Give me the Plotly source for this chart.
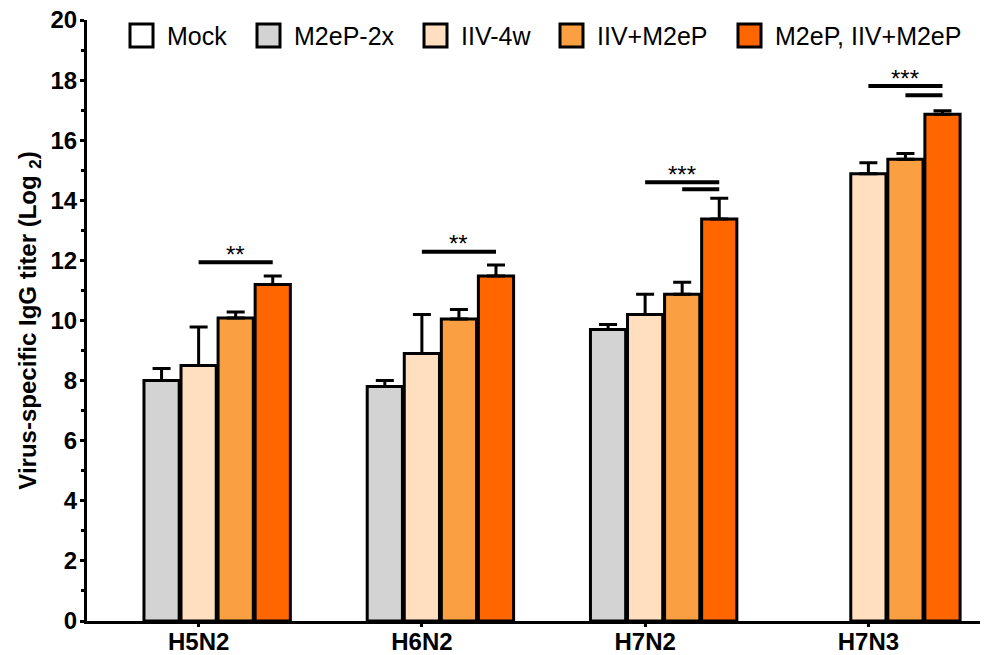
import plotly.graph_objects as go

categories = ["H5N2", "H6N2", "H7N2", "H7N3"]
series_names = ["Mock", "M2eP-2x", "IIV-4w", "IIV+M2eP", "M2eP, IIV+M2eP"]
series_colors = ["#FFFFFF", "#D3D3D3", "#FFDFBF", "#FBA042", "#FF6600"]

mock_vals = [None, None, None, None]
mock_err = [0, 0, 0, 0]
m2ep2x_vals = [8.0, 7.8, 9.7, None]
m2ep2x_err = [0.4, 0.2, 0.17, 0]
iiv4w_vals = [8.5, 8.9, 10.2, 14.88]
iiv4w_err = [1.28, 1.3, 0.67, 0.37]
iivm2ep_vals = [10.08, 10.05, 10.87, 15.37]
iivm2ep_err = [0.2, 0.32, 0.4, 0.19]
combo_vals = [11.2, 11.48, 13.38, 16.86]
combo_err = [0.28, 0.37, 0.69, 0.12]

# significance brackets: category index, from series, to series, y level, label
sig_cat = [0, 1, 2, 2, 3, 3]
sig_from = [2, 2, 2, 3, 2, 3]
sig_to = [4, 4, 4, 4, 4, 4]
sig_y = [11.94, 12.29, 14.6, 14.37, 17.8, 17.5]
sig_label = ["**", "**", "***", "", "***", ""]

all_vals = [mock_vals, m2ep2x_vals, iiv4w_vals, iivm2ep_vals, combo_vals]
all_errs = [mock_err, m2ep2x_err, iiv4w_err, iivm2ep_err, combo_err]

FONT = "Liberation Sans, Arial, sans-serif"
BARGAP = 0.17
NSER = len(series_names)

fig = go.Figure()
for name, color, vals, errs in zip(series_names, series_colors, all_vals, all_errs):
    fig.add_trace(go.Bar(
        name=name, x=categories, y=vals,
        marker=dict(color=color, line=dict(color="black", width=3)),
        error_y=dict(type="data", symmetric=False, array=errs,
                     arrayminus=[0] * len(errs), color="black",
                     thickness=3, width=9),
        showlegend=False,
    ))

pitch = (1 - BARGAP) / NSER

def bar_center(cat, ser):
    return cat + (ser - (NSER - 1) / 2) * pitch

shapes = []
annotations = []
for c, a, b, yv, lab in zip(sig_cat, sig_from, sig_to, sig_y, sig_label):
    x0 = bar_center(c, a)
    x1 = bar_center(c, b)
    shapes.append(dict(type="line", xref="x", yref="y", x0=x0, x1=x1, y0=yv, y1=yv,
                       line=dict(color="black", width=4)))
    if lab:
        annotations.append(dict(x=(x0 + x1) / 2, y=yv, xref="x", yref="y", text=lab,
                                showarrow=False, yanchor="middle", yshift=8,
                                font=dict(family=FONT, size=24, color="black")))

# page body has an 8px offset, so the figure is shifted to match the window
OFF = 8
W, H = 990 - OFF, 655
PLOT_L, PLOT_R, PLOT_T, PLOT_B = 87, 980, 20, 621  # screen pixels
ML, MR, MT, MB = PLOT_L - OFF, W - (PLOT_R - OFF), PLOT_T - OFF, H - (PLOT_B - OFF)
PW, PH = PLOT_R - PLOT_L, PLOT_B - PLOT_T

def px_x(p):
    return (p - PLOT_L) / PW

def px_y(p):
    return (PLOT_B - p) / PH

legend_box_px = [130, 257, 424, 560, 738]
box = 23
for name, color, bx in zip(series_names, series_colors, legend_box_px):
    shapes.append(dict(type="rect", xref="paper", yref="paper",
                       x0=px_x(bx), x1=px_x(bx + box), y0=px_y(24 + box), y1=px_y(24),
                       fillcolor=color, line=dict(color="black", width=3)))
    annotations.append(dict(x=px_x(bx + box + 12), y=px_y(36), xref="paper", yref="paper",
                            text=name, showarrow=False, xanchor="left", yanchor="middle",
                            font=dict(family=FONT, size=25, color="black")))

fig.update_layout(
    width=W, height=H,
    margin=dict(l=ML, r=MR, t=MT, b=MB, autoexpand=False),
    paper_bgcolor="white", plot_bgcolor="white",
    barmode="group", bargap=BARGAP, bargroupgap=0.05,
    shapes=shapes, annotations=annotations,
    font=dict(family=FONT, color="black"),
    xaxis=dict(
        type="category", range=[-0.5, 3.5], automargin=False,
        showline=True, linecolor="black", linewidth=3,
        ticks="outside", ticklen=3, tickwidth=3, tickcolor="black",
        tickfont=dict(family=FONT, size=24, weight="bold", color="black"),
        ticklabeloverflow="allow", ticklabelstandoff=-6,
        showgrid=False, zeroline=False,
    ),
    yaxis=dict(
        range=[0, 20], dtick=2, tick0=0, automargin=False,
        showline=True, linecolor="black", linewidth=3,
        ticks="outside", ticklen=4, tickwidth=3, tickcolor="black",
        minor=dict(dtick=1, ticks="outside", ticklen=3, tickwidth=3, tickcolor="black", showgrid=False),
        tickfont=dict(family=FONT, size=24, weight="bold", color="black"),
        ticklabeloverflow="allow", ticklabelstandoff=-2,
        showgrid=False, zeroline=False,
        title=dict(text="Virus-specific IgG titer (Log <sub>2</sub>)",
                   font=dict(family=FONT, size=24, weight="bold", color="black"),
                   standoff=8),
    ),
)

fig.write_html("out.html")
